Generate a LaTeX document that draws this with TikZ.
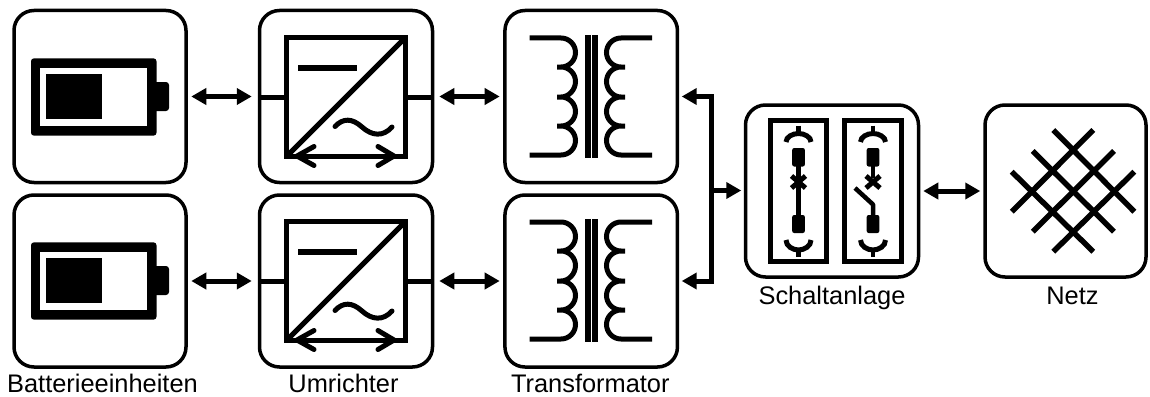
\documentclass[tikz,border=0pt]{standalone}
\usepackage{fontspec}
\setmainfont{Liberation Sans}
\usetikzlibrary{arrows.meta}
\tikzset{
  box/.style={draw,line width=3.5pt,rounded corners=20pt,minimum width=#1,minimum height=172pt,inner sep=0pt},
  box/.default=172pt,
  bi/.style={line width=5pt,{Triangle[length=15pt,width=16pt]}-{Triangle[length=15pt,width=16pt]}},
  uni/.style={line width=5pt,-{Triangle[length=15pt,width=16pt]}},
  lbl/.style={font=\fontsize{25.4}{25.4}\selectfont,inner sep=0pt,anchor=base},
  sym/.style={line width=5pt},
  coil/.style={line width=5pt},
  grid/.style={line width=5.5pt},
  pan/.style={line width=5pt},
  stem/.style={line width=4.5pt},
  blockfill/.style={fill=black,rounded corners=2pt},
}
\newcommand{\batteryicon}[1]{%
  \begin{scope}[yshift=-#1pt]
    \fill[rounded corners=3pt] (31,58.3) rectangle (156.5,135.7);
    \fill[rounded corners=3pt] (150,82) rectangle (169,111);
    \fill[white] (40,67.7) rectangle (147,126);
    \fill (46.3,74) rectangle (101.7,119.3);
  \end{scope}}
\newcommand{\convicon}[1]{%
  \begin{scope}[yshift=-#1pt]
    \draw[sym] (286.5,37.5) rectangle (405,156);
    \draw[sym] (260,97) -- (284,97) (407,97) -- (432,97);
    \draw[sym] (287,156) -- (405,38);
    \draw[line width=6pt] (298,68.3) -- (357,68.3);
    \draw[sym,line cap=round] (335,126.5) .. controls (343,118) and (352,118) .. (362,127) .. controls (372,136) and (383,137) .. (392,127);
    \draw[sym,line cap=round,line join=round] (314,146.5) -- (297,156) -- (314,165.5);
    \draw[sym,line cap=round,line join=round] (378,146.5) -- (394,156) -- (378,165.5);
  \end{scope}}
\newcommand{\lloop}[2]{.. controls (561+8,#1) and (575.5,#1+6.5) .. (575.5,#1+14.5) .. controls (575.5,#1+22.5) and (561+8,#2) .. (561,#2)}
\newcommand{\rloop}[2]{.. controls (621-8,#1) and (606.5,#1+6.5) .. (606.5,#1+14.5) .. controls (606.5,#1+22.5) and (621-8,#2) .. (621,#2)}
\newcommand{\trafoicon}[1]{%
  \begin{scope}[yshift=-#1pt]
    \draw[coil] (529.5,38) -- (561,38) \lloop{38}{67} -- (557,67) (561,67) \lloop{67}{97} -- (557,97) (561,97) \lloop{97}{126} -- (557,126) (561,126) \lloop{126}{155} -- (529.5,155);
    \draw[coil] (652,38) -- (621,38) \rloop{38}{67} -- (625,67) (621,67) \rloop{67}{97} -- (625,97) (621,97) \rloop{97}{126} -- (625,126) (621,126) \rloop{126}{155} -- (652,155);
    \fill (585,35) rectangle (590.7,158.3);
    \fill (592.3,35) rectangle (597.7,158.3);
  \end{scope}}
% contact ends, centred on x = #1
\newcommand{\bayends}[1]{%
  \begin{scope}[xshift=#1pt]
    \draw[line width=5pt] (-12.5,142) .. controls (-12.5,137) and (-6,133.5) .. (0,133.5) .. controls (6,133.5) and (12.5,137) .. (12.5,142);
    \draw[stem] (0,125.5) -- (0,133.5);
    \draw[line width=5pt] (-12.5,240) .. controls (-12.5,246) and (-6,250) .. (0,250) .. controls (6,250) and (12.5,246) .. (12.5,240);
    \draw[stem] (0,250) -- (0,257);
    \fill[blockfill] (-6.3,148) rectangle (6.3,166.5);
    \fill[blockfill] (-6.3,215) rectangle (6.3,233);
    \draw[line width=5pt] (-7,176) -- (7,188) (-7,188) -- (7,176);
  \end{scope}}
\begin{document}
\begin{tikzpicture}[x=1pt,y=-1pt]
\useasboundingbox (0,0) rectangle (1150,396);
% boxes
\node[box] (bat1) at (100,96.5) {};
\node[box] (bat2) at (100,281) {};
\node[box=173pt] (conv1) at (346,96.5) {};
\node[box=173pt] (conv2) at (346,281) {};
\node[box=172.5pt] (tr1) at (591.2,96.5) {};
\node[box=172.5pt] (tr2) at (591.2,281) {};
\node[box=173pt] (sw) at (832,191) {};
\node[box=161pt] (net) at (1065.5,191) {};
% icons
\batteryicon{0}\batteryicon{184}
\convicon{0}\convicon{184}
\trafoicon{0}\trafoicon{184}
% switchgear
\draw[pan] (770.7,120.7) rectangle (826.7,261.5);
\draw[pan] (844.5,120) rectangle (901.5,261.5);
\bayends{798.5}
\bayends{873}
\draw[stem] (798.5,166) -- (798.5,215);
\draw[stem] (873,166) -- (873,178);
\draw[stem,line join=round] (855,188) -- (873,204.5) -- (873,216);
% net
\draw[grid] (1011.7,211.7) -- (1093.3,130);
\draw[grid] (1032.7,231.7) -- (1114,151);
\draw[grid] (1053.3,251.7) -- (1134.3,171.7);
\draw[grid] (1053.3,130) -- (1134.3,211.7);
\draw[grid] (1032.7,151) -- (1114,231.7);
\draw[grid] (1011.7,171.7) -- (1093.3,251.7);
% connectors
\coordinate (bus) at (711.5,190.5);
\draw[bi,shorten <=3.5pt,shorten >=6pt] (bat1.east) -- (bat1.east -| conv1.west);
\draw[bi,shorten <=3.5pt,shorten >=6pt] (bat2.east) -- (bat2.east -| conv2.west);
\draw[bi,shorten <=5pt,shorten >=3.5pt] (conv1.east) -- (tr1.west);
\draw[bi,shorten <=5pt,shorten >=3.5pt] (conv2.east) -- (tr2.west);
\draw[uni,shorten >=2.5pt] (bus) |- (tr1.east);
\draw[uni,shorten >=2.5pt] (bus) |- (tr2.east);
\draw[uni,shorten >=2.5pt] (bus) -- (bus -| sw.west);
\draw[bi,shorten <=3pt,shorten >=3pt] (sw.east) -- (net.west);
% labels
\node[lbl] (l1) at (102.5,392.5) {Batterieeinheiten};
\node[lbl] (l2) at (343.5,392.5) {Umrichter};
\node[lbl] (l3) at (590.3,392.5) {Transformator};
\node[lbl] (l4) at (832,304) {Schaltanlage};
\node[lbl] (l5) at (1072.5,304) {Netz};
\end{tikzpicture}
\end{document}
